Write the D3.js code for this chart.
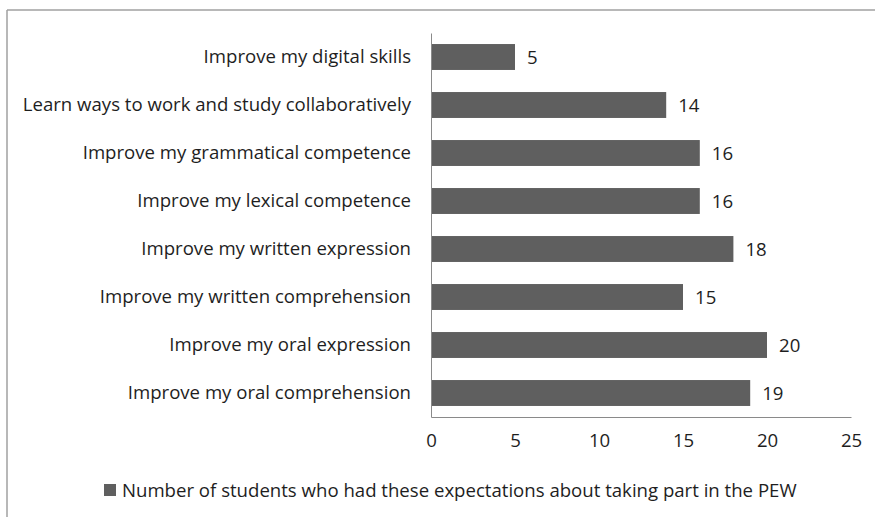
<!DOCTYPE html>
<html><head><meta charset="utf-8">
<script src="https://cdn.jsdelivr.net/npm/d3@7"></script>
<style>body{margin:0;background:#fff;} text{font-family:"Open Sans",sans-serif;}</style>
</head><body>
<svg id="c" width="875" height="517"></svg>
<script>
const categories = [
  "Improve my digital skills",
  "Learn ways to work and study collaboratively",
  "Improve my grammatical competence",
  "Improve my lexical competence",
  "Improve my written expression",
  "Improve my written comprehension",
  "Improve my oral expression",
  "Improve my oral comprehension"
];
const values = [5, 14, 16, 16, 18, 15, 20, 19];
const xTicks = [0, 5, 10, 15, 20, 25];
const seriesName = "Number of students who had these expectations about taking part in the PEW";

const FS = 18.6;
const svg = d3.select("#c");
const W = 875, H = 517;
const m = {left: 431, right: 24, top: 33, bottom: 100};

// frame lines
svg.append("line").attr("x1", 7).attr("x2", W).attr("y1", 10).attr("y2", 10).attr("stroke", "#a0a0a0").attr("stroke-width", 1.5);
svg.append("line").attr("x1", 7).attr("x2", 7).attr("y1", 10).attr("y2", H).attr("stroke", "#a0a0a0").attr("stroke-width", 1.5);

const x = d3.scaleLinear().domain([0, 25]).range([m.left, W - m.right]);
const y = d3.scaleBand().domain(categories).range([m.top, H - m.bottom]).paddingInner(0.46).paddingOuter(0.23);

const data = categories.map((c, i) => ({c, v: values[i]}));

svg.append("g").selectAll("rect").data(data).join("rect")
  .attr("x", x(0)).attr("y", d => y(d.c)).attr("width", d => x(d.v) - x(0)).attr("height", y.bandwidth())
  .attr("fill", "#5f5f5f");

svg.append("g").selectAll("text").data(data).join("text")
  .attr("x", d => x(d.v) + 12).attr("y", d => y(d.c) + y.bandwidth() / 2).attr("dy", "0.35em")
  .attr("font-size", FS).attr("fill", "#1e1e1e").text(d => d.v);

// y axis
const yAxis = svg.append("g").attr("transform", `translate(${x(0)},0)`)
  .call(d3.axisLeft(y).tickSize(0).tickPadding(20));
yAxis.select(".domain").attr("stroke", "#8a8a8a");
yAxis.selectAll("text").attr("font-size", FS).attr("fill", "#1e1e1e").style("font-family", "Open Sans");

// x axis
const xAxis = svg.append("g").attr("transform", `translate(0,${H - m.bottom})`)
  .call(d3.axisBottom(x).tickValues(xTicks).tickSize(0).tickPadding(17));
xAxis.select(".domain").attr("stroke", "#8a8a8a");
xAxis.selectAll("text").attr("font-size", FS).attr("fill", "#1e1e1e").style("font-family", "Open Sans");

// legend
const lg = svg.append("g").attr("transform", "translate(104,490)");
lg.append("rect").attr("x", 0).attr("y", -6).attr("width", 12).attr("height", 12).attr("fill", "#5f5f5f");
lg.append("text").attr("x", 18).attr("y", 0).attr("dy", "0.35em").attr("font-size", FS).attr("fill", "#1e1e1e").text(seriesName);
</script>
</body></html>
